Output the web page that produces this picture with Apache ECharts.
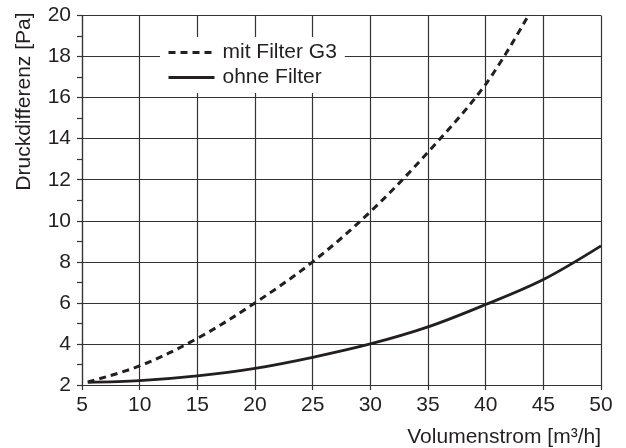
<!DOCTYPE html>
<html>
<head>
<meta charset="utf-8">
<script src="https://cdn.jsdelivr.net/npm/echarts@6/dist/echarts.min.js"></script>
<style>
  html, body { margin: 0; padding: 0; background: #fff; }
  #chart { width: 626px; height: 448px; }
</style>
</head>
<body>
<div id="chart"></div>
<script>
// Volumenstrom [m³/h]
const xMit = [5.5, 10, 15, 20, 25, 30, 35, 40, 43.7];
const mitFilter = [2.15, 2.93, 4.27, 6.0, 8.0, 10.44, 13.34, 16.65, 20];

const xOhne = [5.5, 10, 15, 20, 25, 30, 35, 40, 45, 50];
const ohneFilter = [2.13, 2.21, 2.44, 2.81, 3.35, 4.0, 4.83, 5.92, 7.14, 8.78];

const seriesNames = ['mit Filter G3', 'ohne Filter'];

const ink = '#231f20';
const gridInk = '#333';
const font = 'Liberation Sans, Arial, sans-serif';

const pairs = (xs, ys) => xs.map((x, i) => [x, ys[i]]);

const chart = echarts.init(document.getElementById('chart'), null, { renderer: 'canvas' });

chart.setOption({
    animation: false,
    backgroundColor: '#fff',
    grid: { left: 82, right: 25, top: 15.5, bottom: 63 },
    legend: {
        orient: 'vertical',
        left: 160,
        top: 37,
        padding: [5, 8, 5, 7],
        backgroundColor: '#fff',
        itemWidth: 46,
        itemHeight: 14,
        itemGap: 4,
        itemStyle: { opacity: 0 },
        lineStyle: { width: 3 },
        textStyle: { fontFamily: font, fontSize: 21, color: ink, padding: [0, 0, 0, 3] },
        data: seriesNames
    },
    xAxis: {
        type: 'value',
        min: 5,
        max: 50,
        interval: 5,
        name: 'Volumenstrom [m³/h]',
        nameLocation: 'end',
        nameGap: 0,
        nameTextStyle: {
            fontFamily: font, fontSize: 21, color: ink,
            align: 'right', verticalAlign: 'top', padding: [42, 0, 0, 0]
        },
        axisLine: { show: true, lineStyle: { color: gridInk, width: 1.2 } },
        axisTick: { show: true, inside: false, length: 5, lineStyle: { color: gridInk, width: 1.2 } },
        axisLabel: { fontFamily: font, fontSize: 21, color: ink, margin: 10 },
        splitLine: { show: true, lineStyle: { color: gridInk, width: 1.2 } }
    },
    yAxis: {
        type: 'value',
        min: 2,
        max: 20,
        interval: 2,
        name: 'Druckdifferenz [Pa]',
        nameLocation: 'end',
        nameGap: 3,
        nameRotate: 90,
        nameTextStyle: {
            fontFamily: font, fontSize: 21, color: ink,
            align: 'right', verticalAlign: 'bottom', padding: [0, 0, 47, 0]
        },
        axisLine: { show: true, lineStyle: { color: gridInk, width: 1.2 } },
        axisTick: { show: true, inside: false, length: 5, lineStyle: { color: gridInk, width: 1.2 } },
        minorTick: { show: true, splitNumber: 2, length: 5, lineStyle: { color: gridInk, width: 1.2 } },
        axisLabel: { fontFamily: font, fontSize: 21, color: ink, margin: 11 },
        splitLine: { show: true, lineStyle: { color: gridInk, width: 1.2 } }
    },
    series: [
        {
            name: seriesNames[0],
            type: 'line',
            data: pairs(xMit, mitFilter),
            smooth: 0.35,
            symbol: 'none',
            clip: true,
            lineStyle: { color: ink, width: 3, type: [7, 5] },
            itemStyle: { color: ink }
        },
        {
            name: seriesNames[1],
            type: 'line',
            data: pairs(xOhne, ohneFilter),
            smooth: 0.35,
            symbol: 'none',
            clip: true,
            lineStyle: { color: ink, width: 2.8 },
            itemStyle: { color: ink }
        }
    ]
});
</script>
</body>
</html>
